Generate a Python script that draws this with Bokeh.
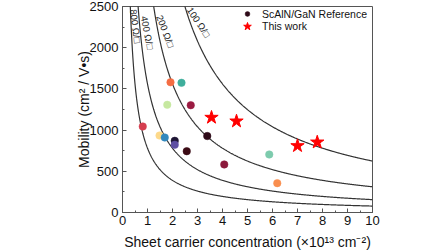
import numpy as np
from bokeh.plotting import figure
from bokeh.models import ColumnDataSource, Range1d, SingleIntervalTicker, Legend, LegendItem
from bokeh.core.properties import value
from bokeh.embed import file_html
from bokeh.resources import INLINE

# Reference ScAlN/GaN data (sheet density in 1e13 cm^-2, mobility cm^2/Vs)
ref_n = [1.92, 2.36, 1.79, 2.73, 0.81, 1.48, 1.69, 2.09, 2.09, 3.39, 2.57, 4.07, 5.87, 6.19]
ref_mu = [1581, 1574, 1307, 1302, 1044, 934, 910, 870, 822, 928, 744, 583, 704, 356]
ref_colors = ["#f46d43", "#3fae9c", "#c6e8a0", "#9b1b42", "#d53e4f", "#fdd98a", "#3288bd",
              "#1e1535", "#5e4fa2", "#2e0a18", "#3b0a14", "#8c1a3c", "#7dcbad", "#f98e4e"]

# This work
work_n = [3.56, 4.56, 7.0, 7.79]
work_mu = [1153, 1108, 809, 853]

# Constant sheet resistance curves (ohm/sq)
sheet_res = [100, 200, 400, 800]
res_labels = ["100 Ω/□", "200 Ω/□", "400 Ω/□", "800 Ω/□"]
label_n = [3.05, 1.72, 1.0, 0.52]
label_mu = [2310, 2200, 2180, 2260]
label_angle = [-0.98, -1.2, -1.38, -1.45]

FONT = "Liberation Sans"
Q = 1.602e-19

p = figure(width=448, height=252, output_backend="svg", toolbar_location=None,
           x_range=Range1d(0, 10), y_range=Range1d(0, 2500),
           min_border_left=122, min_border_right=76, min_border_top=6, min_border_bottom=40)

p.grid.visible = False
p.outline_line_color = "#555555"
p.outline_line_width = 1
p.background_fill_color = "white"
p.border_fill_color = "white"

n_grid = np.linspace(0.05, 10, 600)
for R in sheet_res:
    mu = 1.0 / (Q * n_grid * 1e13 * R)
    p.line(n_grid, mu, line_color="#333333", line_width=1.2)

lab_src = ColumnDataSource(dict(x=label_n, y=label_mu, t=res_labels, a=label_angle))
p.text(x="x", y="y", text="t", angle="a", source=lab_src, text_font=value(FONT),
       text_font_size="9.5px", text_color="#222222", text_align="center", text_baseline="middle")

ref_src = ColumnDataSource(dict(x=ref_n, y=ref_mu, c=ref_colors))
r_ref = p.scatter(x="x", y="y", source=ref_src, marker="circle", size=7.5,
                  fill_color="c", line_color="c", line_width=0.5)
r_work = p.scatter(work_n, work_mu, marker="star", size=14, fill_color="#ff0000", line_color="#ff0000")

common = dict(padding=0, spacing=0, margin=0, label_height=13,
              label_text_font=FONT, label_text_font_size="10.5px", label_text_color="#111111",
              background_fill_alpha=0, border_line_alpha=0)
legend1 = Legend(items=[LegendItem(label="ScAlN/GaN Reference", renderers=[r_ref], index=9)],
                 location=(119, 192), glyph_width=12, glyph_height=13, label_standoff=9, **common)
legend2 = Legend(items=[LegendItem(label="This work", renderers=[r_work])],
                 location=(115, 176), glyph_width=20, glyph_height=20, label_standoff=5, **common)
p.add_layout(legend1, "center")
p.add_layout(legend2, "center")

for ax in (p.xaxis[0], p.yaxis[0]):
    ax.axis_line_color = "#555555"
    ax.major_tick_line_color = "#555555"
    ax.minor_tick_line_color = "#555555"
    ax.major_tick_in = 4
    ax.major_tick_out = 0
    ax.minor_tick_in = 2
    ax.minor_tick_out = 0
    ax.major_label_text_font = FONT
    ax.major_label_text_font_size = "13px"
    ax.major_label_text_color = "#111111"
    ax.axis_label_text_font = FONT
    ax.axis_label_text_font_size = "14px"
    ax.axis_label_text_font_style = "normal"
    ax.axis_label_text_color = "#111111"

p.xaxis.ticker = SingleIntervalTicker(interval=1, num_minor_ticks=2)
p.yaxis.ticker = SingleIntervalTicker(interval=500, num_minor_ticks=2)
p.xaxis.major_label_standoff = 3
p.yaxis.major_label_standoff = 4
p.xaxis.axis_label = "Sheet carrier concentration (×10¹³ cm⁻²)"
p.yaxis.axis_label = "Mobility (cm² / V•s)"
p.xaxis.axis_label_standoff = 6
p.yaxis.axis_label_standoff = -5

open("out.html", "w").write(file_html(p, INLINE))
